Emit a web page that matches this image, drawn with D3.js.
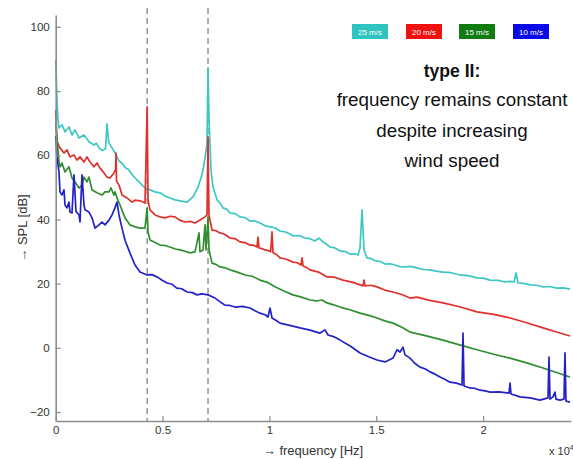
<!DOCTYPE html>
<html><head><meta charset="utf-8">
<script src="https://cdn.jsdelivr.net/npm/d3@7"></script>
<style>
body{margin:0;background:#fff;}
svg{display:block;font-family:Arial,"Liberation Sans",sans-serif;}
</style></head>
<body><svg id="c" width="573" height="459"></svg>
<script>
// ---- data (frequency in Hz, SPL in dB) ----
const seriesNames = ["25 m/s", "20 m/s", "15 m/s", "10 m/s"];
const seriesColors = ["#3cc6c4", "#e0302c", "#2f8f2f", "#2222c8"];
const legendColors = ["#2fc4c0", "#f01010", "#127c12", "#0a0ae6"];
const xTicks = [0, 5000, 10000, 15000, 20000];
const yTicks = [-20, 0, 20, 40, 60, 80, 100];
const markerFreqs = [4280, 7128];
const noteLines = ["frequency remains constant", "despite increasing", "wind speed"];
const noteTitle = "type II:";

const spl25 = [[0,89.5],[61,77.0],[108,71.0],[154,68.5],[295,69.5],[435,67.3],[622,68.8],[763,66.3],[903,67.9],[1090,65.4],[1324,66.3],[1558,64.2],[1792,63.2],[1900,63.8],[2026,62.3],[2167,61.5],[2330,62.0],[2401,69.8],[2480,64.0],[2635,62.3],[2800,60.5],[2962,58.2],[3100,57.6],[3243,56.2],[3400,55.6],[3571,54.0],[3805,52.3],[3945,51.4],[4180,49.8],[4413,49.2],[4647,48.6],[4881,48.3],[5115,47.3],[5349,46.7],[5583,46.1],[5817,45.8],[6145,45.4],[6425,47.0],[6660,50.1],[6800,52.9],[6894,55.4],[6987,59.2],[7081,63.8],[7128,87.2],[7174,71.0],[7268,55.4],[7362,50.1],[7549,46.1],[7700,45.0],[7829,43.6],[8000,43.2],[8157,42.0],[8400,41.8],[8625,40.8],[8850,40.6],[9093,39.5],[9300,39.6],[9561,38.9],[9800,38.0],[10029,37.7],[10250,37.4],[10497,36.4],[10800,36.0],[11105,34.9],[11400,35.0],[11667,34.2],[11900,34.0],[12135,33.3],[12322,34.2],[12509,33.0],[12650,32.4],[12837,31.4],[13050,31.2],[13305,30.2],[13550,30.0],[13773,29.2],[14000,29.3],[14148,28.9],[14241,31.1],[14335,43.0],[14428,30.5],[14569,28.0],[14750,27.8],[14943,27.1],[15200,26.9],[15411,26.1],[15650,26.2],[15879,25.8],[16100,25.3],[16347,25.2],[16600,25.4],[16908,24.9],[17200,24.4],[17517,24.3],[17800,23.9],[18125,23.6],[18500,23.4],[18921,22.7],[19300,22.5],[19716,21.8],[20000,21.7],[20324,21.1],[20700,21.0],[21026,20.5],[21250,20.7],[21447,20.5],[21540,23.3],[21634,20.2],[21900,20.1],[22196,19.6],[22500,19.5],[22804,19.0],[23100,19.1],[23459,18.6],[23750,18.7],[24067,18.3]];

const spl20 = [[0,74.0],[61,64.2],[201,62.3],[388,60.7],[529,61.7],[669,59.5],[856,60.1],[997,58.5],[1137,59.5],[1324,57.9],[1465,59.5],[1605,57.9],[1792,56.4],[1933,57.6],[2073,56.0],[2260,54.5],[2401,53.2],[2541,52.9],[2728,54.5],[2800,55.5],[2822,60.7],[2845,52.0],[2962,50.7],[3103,47.6],[3337,46.7],[3571,45.4],[3711,46.0],[3945,45.8],[4180,45.1],[4280,75.1],[4320,46.1],[4413,43.0],[4647,41.4],[4881,40.8],[5115,40.5],[5350,41.0],[5583,40.8],[5800,39.8],[6051,39.2],[6300,39.4],[6519,38.9],[6753,39.8],[6987,40.8],[7081,41.4],[7128,65.7],[7174,41.4],[7315,36.7],[7500,36.5],[7689,35.8],[7900,35.4],[8157,34.2],[8400,34.0],[8625,33.0],[8850,32.8],[9093,32.0],[9250,32.0],[9420,31.4],[9467,34.5],[9514,31.1],[9650,30.9],[9795,30.5],[9950,30.3],[10060,29.9],[10123,36.1],[10170,29.6],[10350,29.0],[10497,28.0],[10800,27.6],[11105,26.7],[11300,26.5],[11480,25.8],[11527,28.0],[11574,25.5],[11750,25.0],[11901,24.3],[12300,23.6],[12697,22.1],[13050,22.0],[13446,21.1],[13900,20.4],[14380,19.3],[14428,21.1],[14475,19.3],[14750,19.5],[15037,19.0],[15400,18.0],[15785,17.4],[16200,16.6],[16581,15.5],[16908,15.8],[17500,14.8],[18125,14.0],[18900,12.8],[19716,11.2],[20500,10.4],[21260,9.3],[22000,7.9],[22804,6.2],[23400,5.0],[24067,3.7]];

const spl15 = [[0,70.0],[154,57.9],[201,56.4],[295,57.6],[435,54.8],[622,56.4],[763,52.9],[903,51.7],[1090,49.8],[1231,50.7],[1324,53.2],[1465,51.7],[1558,53.2],[1699,49.2],[1933,48.3],[2167,47.6],[2307,48.6],[2494,48.6],[2588,49.8],[2728,47.6],[2775,48.6],[2869,46.7],[3009,44.5],[3243,40.5],[3477,38.3],[3711,37.7],[3945,37.3],[4180,37.3],[4280,43.6],[4320,36.1],[4413,33.6],[4650,32.8],[4881,32.0],[5100,31.9],[5349,31.4],[5600,30.8],[5817,30.5],[6050,30.1],[6285,29.6],[6519,29.9],[6706,35.8],[6753,29.9],[6894,30.5],[6987,38.3],[7034,30.5],[7128,40.8],[7174,30.5],[7315,26.4],[7500,26.0],[7689,25.2],[7900,25.0],[8157,24.3],[8500,23.6],[8859,22.7],[9200,22.3],[9561,21.1],[9900,20.4],[10263,19.0],[10700,17.6],[11105,16.5],[11500,15.8],[11901,14.9],[12200,14.6],[12463,14.9],[12697,14.0],[13000,13.4],[13305,12.7],[13800,11.8],[14241,10.8],[14650,10.1],[15037,9.3],[15400,8.4],[15785,7.7],[16200,6.4],[16581,4.9],[17300,3.8],[18125,2.4],[18900,0.9],[19716,-0.6],[20500,-2.0],[21260,-3.2],[22000,-4.6],[22804,-6.3],[23400,-7.6],[24067,-9.1]];

const spl10 = [[0,66.0],[61,59.2],[154,54.8],[201,48.6],[295,47.6],[388,49.2],[435,44.5],[529,43.6],[622,45.4],[669,42.3],[763,42.0],[856,53.9],[950,42.5],[1090,41.4],[1137,39.2],[1231,53.9],[1324,44.5],[1371,43.0],[1558,42.3],[1699,40.5],[1839,37.3],[2026,38.3],[2167,39.2],[2307,38.3],[2494,39.8],[2635,41.4],[2775,43.6],[2869,45.4],[2962,41.4],[3103,37.3],[3243,33.5],[3477,29.5],[3711,25.8],[3945,23.6],[4280,22.7],[4500,22.8],[4741,22.1],[5000,21.0],[5209,20.2],[5450,19.8],[5662,18.6],[5900,18.4],[6145,17.4],[6400,17.2],[6613,16.5],[6850,16.8],[7128,16.5],[7300,16.0],[7455,15.5],[7700,14.3],[7923,13.3],[8150,13.2],[8391,12.7],[8750,12.9],[9093,12.4],[9300,11.6],[9561,10.8],[9800,10.3],[9936,9.6],[10029,12.4],[10123,9.3],[10300,8.6],[10497,7.7],[10950,7.0],[11433,6.2],[11900,5.5],[12369,4.6],[12603,5.6],[12744,4.0],[13000,3.5],[13305,2.4],[13800,0.5],[14241,-1.6],[14650,-2.8],[15037,-3.8],[15411,-4.4],[15785,-3.2],[15973,-0.6],[16113,-1.3],[16253,0.2],[16347,-2.2],[16581,-3.2],[16800,-4.8],[17049,-6.0],[17300,-6.6],[17517,-7.5],[17750,-8.2],[17985,-9.1],[18200,-9.8],[18453,-10.7],[18750,-11.0],[19014,-11.6],[19061,4.6],[19108,-11.9],[19388,-12.5],[19600,-12.6],[19856,-13.2],[20100,-13.4],[20324,-13.8],[20750,-13.7],[21213,-14.1],[21260,-11.0],[21307,-14.4],[21728,-15.3],[22196,-15.6],[22664,-16.3],[23038,-15.6],[23085,-2.9],[23132,-16.0],[23272,-15.3],[23365,-13.8],[23412,-16.0],[23599,-16.3],[23786,-16.0],[23833,-1.6],[23880,-16.6],[24067,-16.9]];

const seriesData = [spl25, spl20, spl15, spl10];

// ---- drawing ----
const svg = d3.select("#c");
const x = d3.scaleLinear().domain([0, 24100]).range([55.7, 570.7]);
const y = d3.scaleLinear().domain([-22.8, 103.7]).range([421, 15]);
const axisColor = "#8c8c8c";

// marker dashed lines
svg.selectAll("line.mark").data(markerFreqs).join("line")
  .attr("x1", d => x(d)).attr("x2", d => x(d))
  .attr("y1", 8).attr("y2", 421)
  .attr("stroke", "#7a7a7a").attr("stroke-width", 1.2)
  .attr("stroke-dasharray", "6,4");

// curves
const line = d3.line().x(d => x(d[0])).y(d => y(d[1]));
svg.selectAll("path.curve").data(seriesData).join("path")
  .attr("class", "curve")
  .attr("d", line)
  .attr("fill", "none")
  .attr("stroke", (d, i) => seriesColors[i])
  .attr("stroke-width", 1.7)
  .attr("stroke-linejoin", "round");

// axes
const yAxis = d3.axisLeft(y).tickValues(yTicks).tickSizeInner(-5).tickSizeOuter(0).tickPadding(6);
const gy = svg.append("g").attr("transform", "translate(55.7,0)").call(yAxis);
const xAxis = d3.axisBottom(x).tickValues(xTicks).tickSizeInner(-5).tickSizeOuter(0).tickPadding(5)
  .tickFormat(d => d3.format("~g")(d / 10000));
const gx = svg.append("g").attr("transform", "translate(0,421)").call(xAxis);
[gx, gy].forEach(g => {
  g.select(".domain").attr("stroke", axisColor).attr("stroke-width", 1.6);
  g.selectAll(".tick line").attr("stroke", axisColor).attr("stroke-width", 1.2);
  g.selectAll(".tick text").attr("fill", "#333").style("font-size", "11.5px");
});

// axis labels
svg.append("text").attr("x", 313).attr("y", 455).attr("text-anchor", "middle")
  .attr("fill", "#333").style("font-size", "13px").text("\u2192 frequency [Hz]");
const ex = svg.append("text").attr("x", 549).attr("y", 455).attr("fill", "#333").style("font-size", "11px");
ex.append("tspan").text("x 10");
ex.append("tspan").attr("dy", -5).style("font-size", "7px").text("4");
svg.append("text").attr("transform", "translate(27,228) rotate(-90)").attr("text-anchor", "middle")
  .attr("fill", "#333").style("font-size", "13px").text("\u2192 SPL [dB]");

// legend
const legX = [352, 406, 459, 513];
const lg = svg.selectAll("g.leg").data(seriesNames).join("g").attr("class", "leg")
  .attr("transform", (d, i) => `translate(${legX[i]},24)`);
lg.append("rect").attr("width", 36).attr("height", 15).attr("fill", (d, i) => legendColors[i]);
lg.append("text").attr("x", 18).attr("y", 10.5).attr("text-anchor", "middle")
  .attr("fill", "#fff").style("font-size", "8px").text(d => d);

// annotation
svg.append("text").attr("x", 452).attr("y", 77).attr("text-anchor", "middle")
  .attr("fill", "#111").style("font-size", "17.6px").style("font-weight", "bold").text(noteTitle);
svg.selectAll("text.note").data(noteLines).join("text").attr("class", "note")
  .attr("x", 452).attr("y", (d, i) => 106 + i * 30.5).attr("text-anchor", "middle")
  .attr("fill", "#111").style("font-size", "18.8px").text(d => d);
</script></body></html>
